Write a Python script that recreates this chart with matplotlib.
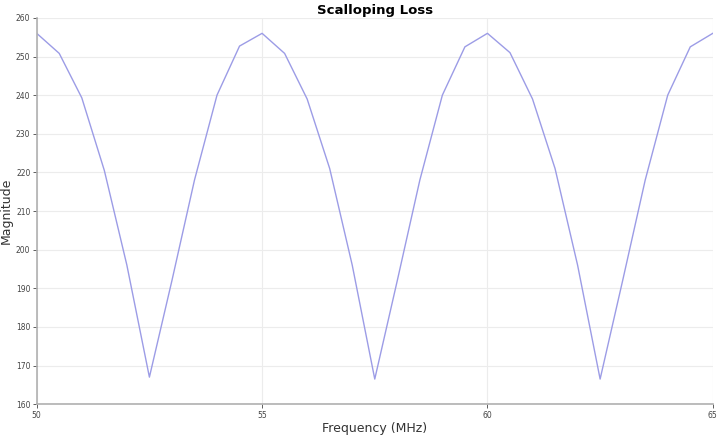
import numpy as np
import matplotlib
matplotlib.use('Agg')
import matplotlib.pyplot as plt

# frequency bins (MHz) and magnitude
freq = [50, 50.5, 51, 51.5, 52, 52.5, 53, 53.5, 54, 54.5,
        55, 55.5, 56, 56.5, 57, 57.5, 58, 58.5, 59, 59.5,
        60, 60.5, 61, 61.5, 62, 62.5, 63, 63.5, 64, 64.5, 65]
mag = [256, 250.8, 239.3, 220.5, 196, 167, 192, 218, 240, 252.7,
       256, 250.8, 239, 221, 196, 166.5, 192, 218, 240, 252.5,
       256, 251, 239, 221, 196, 166.5, 192, 218, 240, 252.5, 256]

xticks = [50, 55, 60, 65]
yticks = list(range(160, 261, 10))

fig = plt.figure(figsize=(7.2, 4.36), dpi=100)
ax = fig.add_axes([0.051, 0.073, 0.939, 0.886])

ax.plot(freq, mag, color='#9c9ce6', linewidth=1.0)

ax.set_xlim(50, 65)
ax.set_ylim(160, 260)
ax.set_xticks(xticks)
ax.set_yticks(yticks)
ax.grid(True, color='#ececec', linewidth=0.8)
ax.set_axisbelow(True)

for s in ['top', 'right']:
    ax.spines[s].set_visible(False)
for s in ['left', 'bottom']:
    ax.spines[s].set_color('#b0b0b0')
    ax.spines[s].set_linewidth(1.2)

ax.tick_params(labelsize=5.5, colors='#444444', length=3, width=0.6)
ax.tick_params(axis='x', pad=2)
ax.tick_params(axis='y', pad=1.5)

ax.set_title('Scalloping Loss', fontsize=9.5, fontweight='bold', pad=3)
ax.set_xlabel('Frequency (MHz)', fontsize=9, color='#333333', labelpad=1)
ax.set_ylabel('Magnitude', fontsize=9, color='#333333', labelpad=2)

fig.savefig('out.png', dpi=100)
